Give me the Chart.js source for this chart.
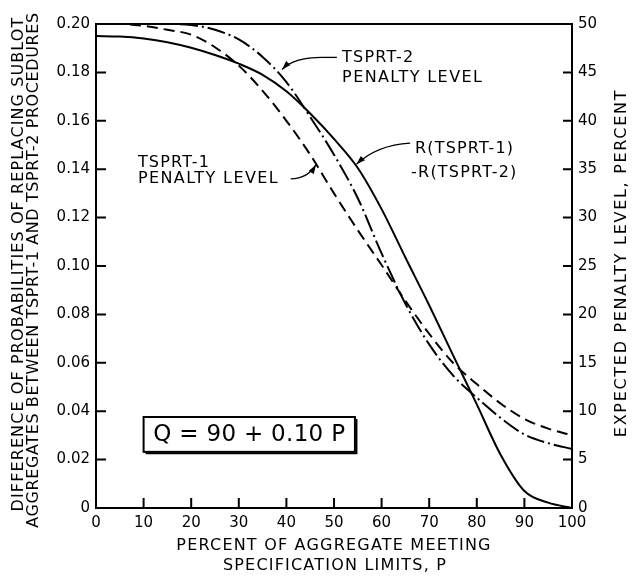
<!DOCTYPE html>
<html><head><meta charset="utf-8">
<script src="https://cdn.jsdelivr.net/npm/chart.js@4"></script>
<style>html,body{margin:0;padding:0;background:#fff;}canvas{display:block;}</style>
</head><body>
<canvas id="c" width="637" height="578"></canvas>
<script>
// ---- data ----
const percentP = [0,5,10,15,20,25,30,35,40,45,50,55,60,65,70,75,80,85,90,95,100];
// R(TSPRT-1) - R(TSPRT-2), left axis (difference of probabilities)
const diffR = [0.1950,0.1948,0.1940,0.1925,0.1902,0.1872,0.1836,0.1790,0.1722,0.1630,0.1525,0.1405,0.1235,0.1035,0.0838,0.0632,0.0428,0.0220,0.0070,0.0022,0.0000];
// TSPRT-1 penalty level, right axis (percent)
const tsprt1Penalty = [50,50,49.8,49.4,48.9,47.6,45.7,43.1,40.0,36.5,32.5,28.7,25.1,21.4,18.0,15.0,12.8,10.8,9.2,8.2,7.5];
// TSPRT-2 penalty level, right axis (percent)
const tsprt2Penalty = [50,50,50,50,49.9,49.4,48.4,46.6,44.0,40.4,36.5,32.0,26.3,21.1,16.9,13.7,11.4,9.3,7.6,6.7,6.1];
const xTicks = [0,10,20,30,40,50,60,70,80,90,100];
const leftTicks = [0,0.02,0.04,0.06,0.08,0.10,0.12,0.14,0.16,0.18,0.20];
const rightTicks = [0,5,10,15,20,25,30,35,40,45,50];

const leftTitle = ['DIFFERENCE OF PROBABILITIES OF REPLACING SUBLOT','AGGREGATES BETWEEN TSPRT-1 AND TSPRT-2 PROCEDURES'];
const rightTitle = 'EXPECTED PENALTY LEVEL, PERCENT';
const bottomTitle = ['PERCENT OF AGGREGATE MEETING','SPECIFICATION LIMITS, P'];
const formulaText = 'Q = 90 + 0.10 P';

const FONT = "'DejaVu Sans', sans-serif";
const tickFont = {family: FONT, size: 15};

function pts(ys){ return percentP.map((p,i)=>({x:p,y:ys[i]})); }

const decor = {
  id: 'decor',
  afterDatasetsDraw(chart){
    const ctx = chart.ctx, a = chart.chartArea;
    const sx = chart.scales.x, sy = chart.scales.y, sr = chart.scales.y2;
    const px = v => sx.getPixelForValue(v), py = v => sy.getPixelForValue(v);
    ctx.save();
    ctx.strokeStyle = '#000'; ctx.fillStyle = '#000';
    // frame
    ctx.lineWidth = 2;
    ctx.strokeRect(a.left, a.top, a.right - a.left, a.bottom - a.top);
    // inward ticks
    ctx.lineWidth = 2;
    ctx.beginPath();
    leftTicks.slice(1,-1).forEach(v=>{ const y=py(v); ctx.moveTo(a.left,y); ctx.lineTo(a.left+10,y); });
    rightTicks.slice(1,-1).forEach(v=>{ const y=sr.getPixelForValue(v); ctx.moveTo(a.right-9,y); ctx.lineTo(a.right,y); });
    xTicks.slice(1,-1).forEach(v=>{ const x=px(v); ctx.moveTo(x,a.bottom); ctx.lineTo(x,a.bottom-10); });
    ctx.stroke();

    // text helpers
    function txt(s, x, y, size, align, ls, rot){
      ctx.save();
      ctx.font = size + 'px ' + FONT;
      ctx.letterSpacing = (ls||0) + 'px';
      ctx.textAlign = align; ctx.textBaseline = 'middle';
      ctx.translate(x, y); if (rot) ctx.rotate(rot);
      ctx.fillText(s, 0, 0);
      ctx.restore();
    }
    function arrow(x0,y0,cx,cy,x1,y1){
      ctx.lineWidth = 1.3;
      ctx.beginPath(); ctx.moveTo(x0,y0); ctx.quadraticCurveTo(cx,cy,x1,y1); ctx.stroke();
      const ang = Math.atan2(y1-cy, x1-cx), L=9, W=3;
      ctx.beginPath();
      ctx.moveTo(x1,y1);
      ctx.lineTo(x1 - L*Math.cos(ang) + W*Math.sin(ang), y1 - L*Math.sin(ang) - W*Math.cos(ang));
      ctx.lineTo(x1 - L*Math.cos(ang) - W*Math.sin(ang), y1 - L*Math.sin(ang) + W*Math.cos(ang));
      ctx.closePath(); ctx.fill();
    }
    // axis titles
    const cy = (a.top + a.bottom)/2;
    txt(leftTitle[0], 19, cy-2, 16, 'center', 1.1, -Math.PI/2);
    txt(leftTitle[1], 34, cy+4, 16, 'center', 0.6, -Math.PI/2);
    txt(rightTitle, 622, cy-3, 16, 'center', 1.7, -Math.PI/2);
    const cx = (a.left + a.right)/2;
    txt(bottomTitle[0], cx, 546, 16, 'center', 1.2, 0);
    txt(bottomTitle[1], cx+1, 566, 16, 'center', 1.2, 0);

    // annotations (positioned in data units)
    txt('TSPRT-2', px(51.7), py(0.1862), 16, 'left', 1.2, 0);
    txt('PENALTY LEVEL', px(51.7), py(0.1778), 16, 'left', 1.4, 0);
    ctx.lineWidth = 1.3;
    ctx.beginPath(); ctx.moveTo(px(47.5), py(0.1862)); ctx.lineTo(px(50.6), py(0.1862)); ctx.stroke();
    arrow(px(47.5), py(0.1862), px(41.5), py(0.1862), px(39.1), py(0.1812));

    txt('TSPRT-1', px(8.8), py(0.1428), 16, 'left', 1.2, 0);
    txt('PENALTY LEVEL', px(8.8), py(0.1360), 16, 'left', 1.4, 0);
    arrow(px(40.9), py(0.1360), px(44.5), py(0.1362), px(46.2), py(0.1418));

    txt('R(TSPRT-1)', px(67.0), py(0.1483), 16, 'left', 1.2, 0);
    txt('-R(TSPRT-2)', px(66.2), py(0.1384), 16, 'left', 1.2, 0);
    arrow(px(66.0), py(0.1508), px(59.0), py(0.1500), px(54.7), py(0.1420));

    // formula box
    const bx0 = px(10.0), bx1 = px(54.4), by0 = py(0.0376), by1 = py(0.0232);
    ctx.lineWidth = 2;
    ctx.strokeRect(bx0, by0, bx1-bx0, by1-by0);
    ctx.lineWidth = 2;
    ctx.beginPath(); ctx.moveTo(bx0+2, by1+1.5); ctx.lineTo(bx1+1.5, by1+1.5); ctx.lineTo(bx1+1.5, by0+2); ctx.stroke();
    txt(formulaText, (bx0+bx1)/2, (by0+by1)/2 + 1, 23, 'center', 0.3, 0);
    ctx.restore();
  }
};

new Chart(document.getElementById('c'), {
  type: 'line',
  data: {
    datasets: [
      {label:'R(TSPRT-1) - R(TSPRT-2)', data: pts(diffR), yAxisID:'y', borderColor:'#000', borderWidth:2, pointRadius:0, fill:false, cubicInterpolationMode:'monotone'},
      {label:'TSPRT-1 penalty level', data: pts(tsprt1Penalty), yAxisID:'y2', borderColor:'#000', borderWidth:2, borderDash:[11,6], pointRadius:0, fill:false, cubicInterpolationMode:'monotone'},
      {label:'TSPRT-2 penalty level', data: pts(tsprt2Penalty), yAxisID:'y2', borderColor:'#000', borderWidth:2, borderDash:[18,4,2,4], pointRadius:0, fill:false, cubicInterpolationMode:'monotone'}
    ]
  },
  options: {
    responsive: false, animation: false,
    layout: {padding: {top: 24, left: 0, right: 0, bottom: 0}},
    plugins: {legend: {display:false}, tooltip: {enabled:false}, title: {display:false}},
    scales: {
      x: {type:'linear', position:'bottom', min:0, max:100,
          afterBuildTicks: s => { s.ticks = xTicks.map(v=>({value:v})); },
          ticks: {font: tickFont, color:'#000', padding:6, maxRotation:0, autoSkip:false, callback: v => String(v)},
          grid: {display:false, drawTicks:false}, border: {display:false},
          afterFit: s => { s.height = 70; }},
      y: {type:'linear', position:'left', min:0, max:0.2,
          afterBuildTicks: s => { s.ticks = leftTicks.map(v=>({value:v})); },
          ticks: {font: tickFont, color:'#000', padding:6, autoSkip:false, callback: v => v === 0 ? '0' : v.toFixed(2)},
          grid: {display:false, drawTicks:false}, border: {display:false},
          afterFit: s => { s.width = 96; }},
      y2: {type:'linear', position:'right', min:0, max:50,
          afterBuildTicks: s => { s.ticks = rightTicks.map(v=>({value:v})); },
          ticks: {font: tickFont, color:'#000', padding:6, autoSkip:false, callback: v => String(v)},
          grid: {display:false, drawTicks:false}, border: {display:false},
          afterFit: s => { s.width = 65; }}
    }
  },
  plugins: [decor]
});
</script>
</body></html>
